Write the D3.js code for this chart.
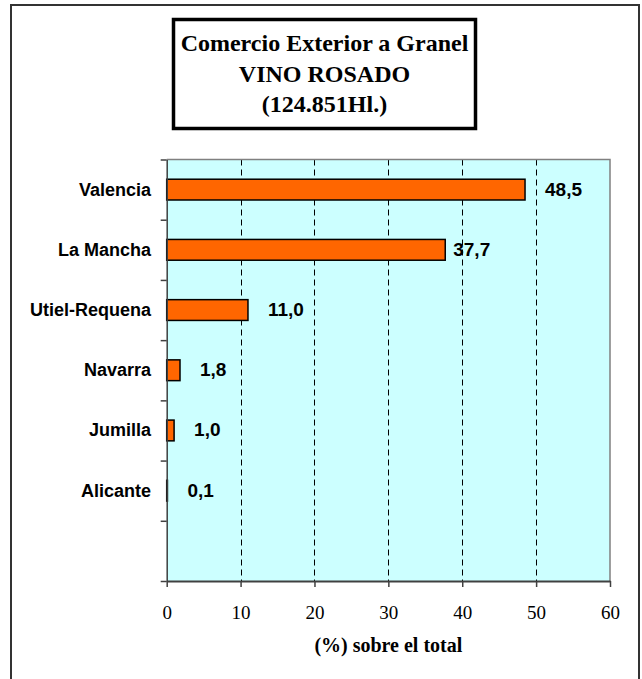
<!DOCTYPE html>
<html>
<head>
<meta charset="utf-8">
<script src="https://cdn.jsdelivr.net/npm/d3@7"></script>
<style>
  html, body { margin: 0; padding: 0; background: #fff; }
  svg { display: block; }
</style>
</head>
<body>
<svg id="chart" width="642" height="679"></svg>
<script>
// ---- data ----
const categories = ["Valencia", "La Mancha", "Utiel-Requena", "Navarra", "Jumilla", "Alicante"];
const values = [48.5, 37.7, 11.0, 1.8, 1.0, 0.1];
const valueLabels = ["48,5", "37,7", "11,0", "1,8", "1,0", "0,1"];
const xTicks = [0, 10, 20, 30, 40, 50, 60];
const titleLines = ["Comercio Exterior a Granel", "VINO ROSADO", "(124.851Hl.)"];
const xAxisTitle = "(%) sobre el total";
const xDomain = [0, 60];

// ---- layout ----
const labelDx = [20, 8, 20, 20, 20, 20];
const plot = { left: 166.7, right: 610, top: 159.5, bottom: 581 };
const svg = d3.select("#chart");

// outer frame (open at bottom)
svg.append("path")
  .attr("d", "M11,680 L11,5 L639,5 L639,680")
  .attr("fill", "none").attr("stroke", "#333").attr("stroke-width", 2);

// title box
svg.append("rect")
  .attr("x", 173.5).attr("y", 19.5).attr("width", 302).attr("height", 109)
  .attr("fill", "#fff").attr("stroke", "#000").attr("stroke-width", 3.5);
const titleBase = [51, 82, 112];
svg.append("g").selectAll("text").data(titleLines).join("text")
  .attr("x", 324.5).attr("y", (d, i) => titleBase[i])
  .attr("text-anchor", "middle")
  .attr("font-family", "'Liberation Serif', 'Times New Roman', serif")
  .attr("font-weight", "bold").attr("font-size", 24)
  .attr("fill", "#000")
  .text(d => d);

// scales
const x = d3.scaleLinear().domain(xDomain).range([plot.left, plot.right]);
const nBands = categories.length + 1;
const yIdx = d3.scaleLinear().domain([0, nBands]).range([plot.top, plot.bottom]);
const y = d3.scaleBand().domain(d3.range(nBands)).range([plot.top, plot.bottom]).padding(0);
const barH = y.bandwidth() * 0.345;

// plot background
svg.append("rect")
  .attr("x", plot.left).attr("y", plot.top)
  .attr("width", plot.right - plot.left).attr("height", plot.bottom - plot.top)
  .attr("fill", "#CCFFFF");

// gridlines
svg.append("g").selectAll("line").data(xTicks.filter(t => t > xDomain[0] && t < xDomain[1])).join("line")
  .attr("x1", d => Math.round(x(d)) + 0.5).attr("x2", d => Math.round(x(d)) + 0.5)
  .attr("y1", plot.top).attr("y2", plot.bottom)
  .attr("stroke", "#000").attr("stroke-width", 1).attr("stroke-dasharray", "6,4");

// plot border top & right
svg.append("path")
  .attr("d", `M${plot.left},${plot.top} L${plot.right},${plot.top} L${plot.right},${plot.bottom}`)
  .attr("fill", "none").attr("stroke", "#808080").attr("stroke-width", 1.5);

// bars
svg.append("g").selectAll("rect").data(values).join("rect")
  .attr("x", x(0))
  .attr("y", (d, i) => y(i) + y.bandwidth() / 2 - barH / 2)
  .attr("width", d => x(d) - x(0))
  .attr("height", barH)
  .attr("fill", "#FF6600").attr("stroke", "#000").attr("stroke-width", 1.5);

// value labels
svg.append("g").selectAll("text").data(values).join("text")
  .attr("x", (d, i) => x(d) + labelDx[i])
  .attr("y", (d, i) => y(i) + y.bandwidth() / 2 + 6)
  .attr("font-family", "'Liberation Sans', Arial, sans-serif")
  .attr("font-weight", "bold").attr("font-size", 19).attr("fill", "#000")
  .text((d, i) => valueLabels[i]);

// category labels
svg.append("g").selectAll("text").data(categories).join("text")
  .attr("x", 151)
  .attr("y", (d, i) => y(i) + y.bandwidth() / 2 + 6)
  .attr("text-anchor", "end")
  .attr("font-family", "'Liberation Sans', Arial, sans-serif")
  .attr("font-weight", "bold").attr("font-size", 18).attr("fill", "#000")
  .text(d => d);

// y axis
const yAxis = svg.append("g").attr("transform", `translate(${plot.left},0)`)
  .call(d3.axisLeft(yIdx).tickValues(d3.range(nBands + 1)).tickFormat("").tickSize(6).tickSizeOuter(0));
yAxis.select(".domain").attr("stroke", "#404040").attr("stroke-width", 1.5);
yAxis.selectAll(".tick line").attr("stroke", "#404040").attr("stroke-width", 1.5);

// x axis
const xAxis = svg.append("g").attr("transform", `translate(0,${plot.bottom})`)
  .call(d3.axisBottom(x).tickValues(xTicks).tickSize(6).tickSizeOuter(0).tickPadding(0));
xAxis.select(".domain").attr("stroke", "#404040").attr("stroke-width", 2);
xAxis.selectAll(".tick line").attr("stroke", "#404040").attr("stroke-width", 1.5);
xAxis.selectAll(".tick text")
  .attr("y", 38).attr("dy", null)
  .attr("font-family", "'Liberation Serif', 'Times New Roman', serif")
  .attr("font-size", 19).attr("fill", "#000");

// x axis title
svg.append("text")
  .attr("x", (plot.left + plot.right) / 2).attr("y", 652)
  .attr("text-anchor", "middle")
  .attr("font-family", "'Liberation Serif', 'Times New Roman', serif")
  .attr("font-weight", "bold").attr("font-size", 20).attr("fill", "#000")
  .text(xAxisTitle);
</script>
</body>
</html>
